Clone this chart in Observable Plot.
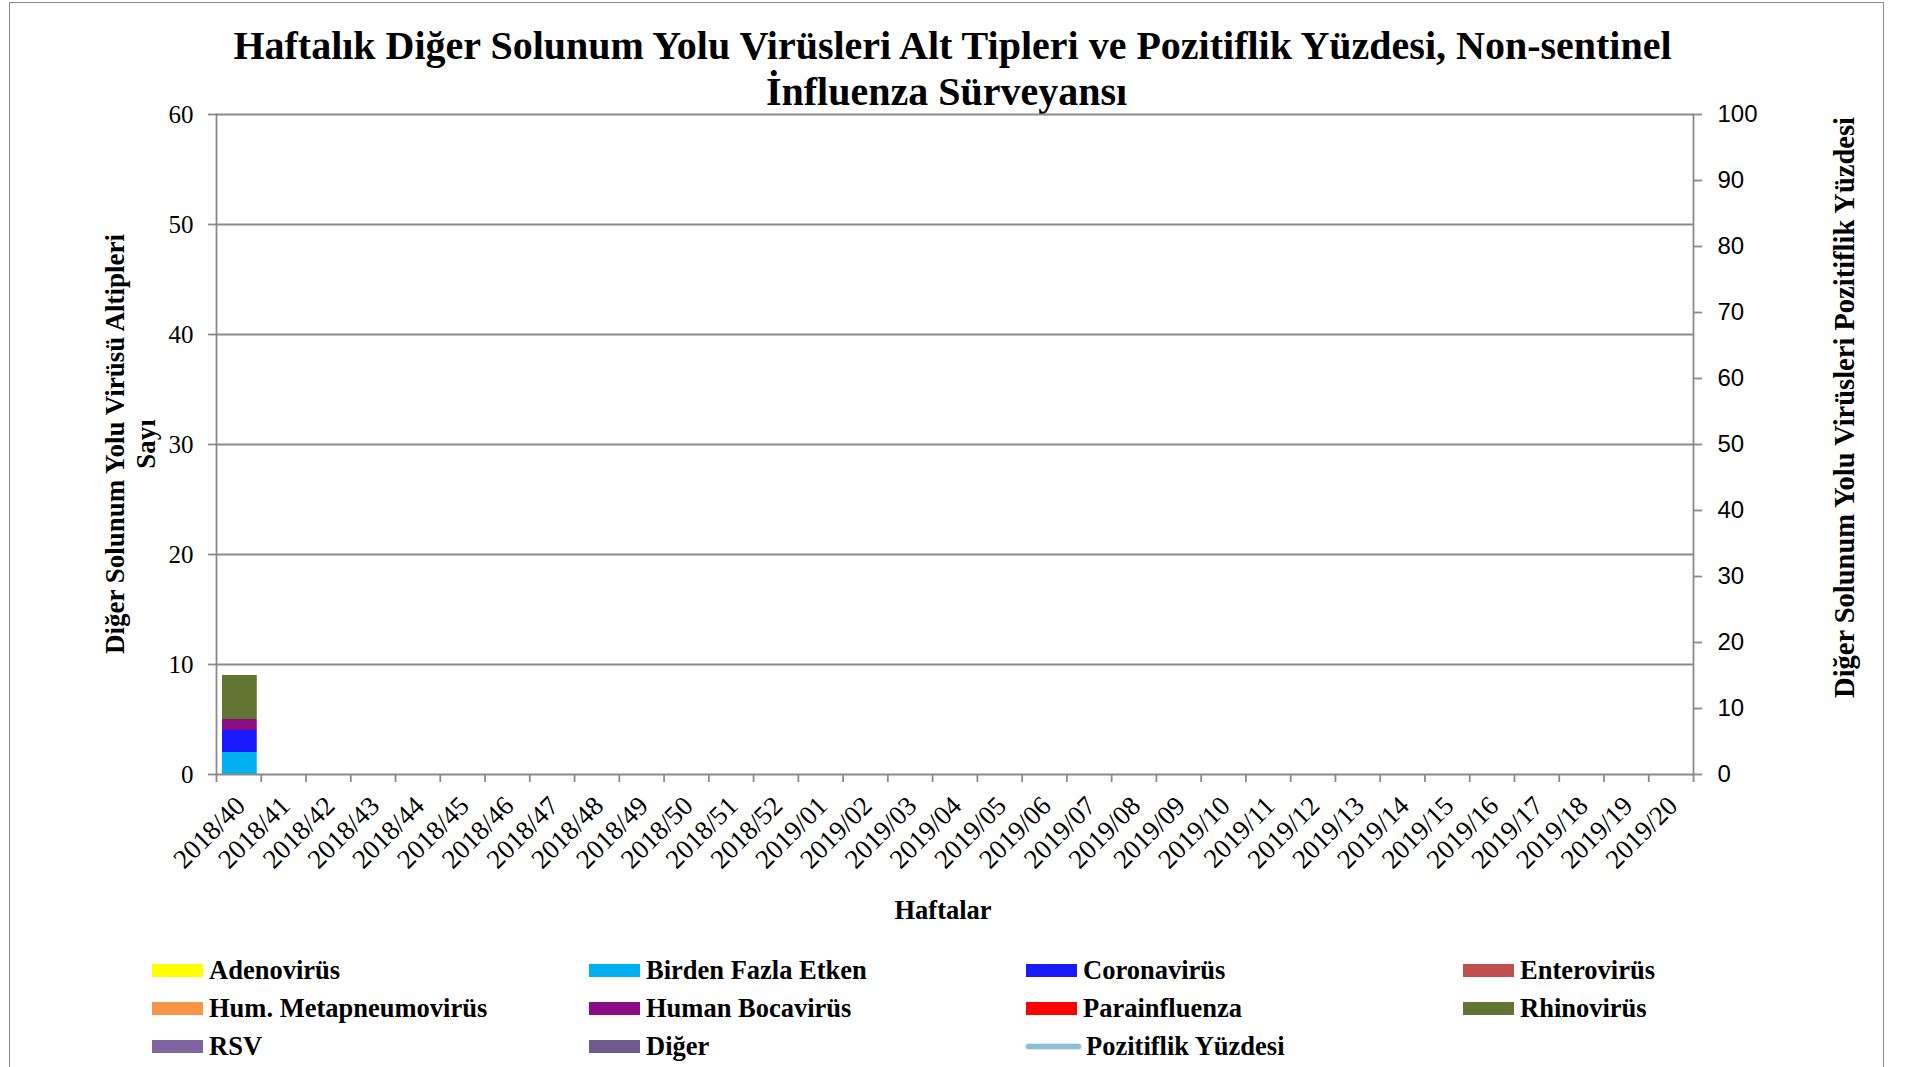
<!DOCTYPE html>
<html>
<head>
<meta charset="utf-8">
<script src="https://cdn.jsdelivr.net/npm/d3@7"></script>
<script src="https://cdn.jsdelivr.net/npm/@observablehq/plot@0.6"></script>
<style>
  html, body { margin: 0; padding: 0; background: #fff; }
  #page { position: relative; width: 1905px; height: 1067px; overflow: hidden; background: #fff; font-family: "Liberation Serif", "Times New Roman", serif; color: #000; }
  #border { position: absolute; left: 9px; top: 2px; width: 1875px; height: 1100px; border: 1.5px solid #8c8c8c; box-sizing: border-box; }
  .abs { position: absolute; }
  #title { left: 0; width: 1905px; top: 23px; text-align: center; font-weight: bold; font-size: 40px; line-height: 46px; }
  .svgwrap { position: absolute; left: 0; top: 0; }
  .svgwrap svg { background: transparent; }
  .ytitle { font-weight: bold; white-space: nowrap; text-align: center; line-height: 31px; }
  .leg { position: absolute; font-weight: bold; font-size: 26.5px; white-space: nowrap; display: flex; align-items: center; height: 30px; }
  .sw { width: 51px; height: 13px; margin-right: 6px; }
  .ln { width: 55px; height: 5px; border-radius: 3px; margin-right: 5px; box-shadow: 0 0 0 1px #d6eaf2; }
</style>
</head>
<body>
<div id="page">
  <div id="border"></div>
  <div id="title" class="abs">Haftalık Diğer Solunum Yolu Virüsleri Alt Tipleri ve Pozitiflik Yüzdesi, Non-sentinel<br><span style="position:relative;left:-6px;">İnfluenza Sürveyansı</span></div>
  <div id="plotL" class="svgwrap"></div>
  <div id="plotR" class="svgwrap"></div>
  <div id="ltitle" class="abs ytitle" style="font-size:27px;">Diğer Solunum Yolu Virüsü Altipleri<br>Sayı</div>
  <div id="rtitle" class="abs ytitle" style="font-size:28.5px;">Diğer Solunum Yolu Virüsleri Pozitiflik Yüzdesi</div>
  <div id="xtitle" class="abs" style="font-weight:bold;font-size:26.5px;">Haftalar</div>
  <div id="legend"></div>
</div>
<script>
// ---- Data ----
const weeks = ["2018/40","2018/41","2018/42","2018/43","2018/44","2018/45","2018/46","2018/47","2018/48","2018/49","2018/50","2018/51","2018/52",
  "2019/01","2019/02","2019/03","2019/04","2019/05","2019/06","2019/07","2019/08","2019/09","2019/10","2019/11","2019/12","2019/13","2019/14","2019/15","2019/16","2019/17","2019/18","2019/19","2019/20"];

const adenovirus       = [0,0,0,0,0,0,0,0,0,0, 0,0,0,0,0,0,0,0,0,0, 0,0,0,0,0,0,0,0,0,0, 0,0,0];
const birdenFazlaEtken = [2,0,0,0,0,0,0,0,0,0, 0,0,0,0,0,0,0,0,0,0, 0,0,0,0,0,0,0,0,0,0, 0,0,0];
const coronavirus      = [2,0,0,0,0,0,0,0,0,0, 0,0,0,0,0,0,0,0,0,0, 0,0,0,0,0,0,0,0,0,0, 0,0,0];
const enterovirus      = [0,0,0,0,0,0,0,0,0,0, 0,0,0,0,0,0,0,0,0,0, 0,0,0,0,0,0,0,0,0,0, 0,0,0];
const metapneumovirus  = [0,0,0,0,0,0,0,0,0,0, 0,0,0,0,0,0,0,0,0,0, 0,0,0,0,0,0,0,0,0,0, 0,0,0];
const bocavirus        = [1,0,0,0,0,0,0,0,0,0, 0,0,0,0,0,0,0,0,0,0, 0,0,0,0,0,0,0,0,0,0, 0,0,0];
const parainfluenza    = [0,0,0,0,0,0,0,0,0,0, 0,0,0,0,0,0,0,0,0,0, 0,0,0,0,0,0,0,0,0,0, 0,0,0];
const rhinovirus       = [4,0,0,0,0,0,0,0,0,0, 0,0,0,0,0,0,0,0,0,0, 0,0,0,0,0,0,0,0,0,0, 0,0,0];
const rsv              = [0,0,0,0,0,0,0,0,0,0, 0,0,0,0,0,0,0,0,0,0, 0,0,0,0,0,0,0,0,0,0, 0,0,0];
const diger            = [0,0,0,0,0,0,0,0,0,0, 0,0,0,0,0,0,0,0,0,0, 0,0,0,0,0,0,0,0,0,0, 0,0,0];
// positivity % (no visible line in the reference)
const pozitiflik = [null,null,null,null,null,null,null,null,null,null, null,null,null,null,null,null,null,null,null,null, null,null,null,null,null,null,null,null,null,null, null,null,null];

const seriesNames  = ["Adenovirüs","Birden Fazla Etken","Coronavirüs","Enterovirüs","Hum. Metapneumovirüs","Human Bocavirüs","Parainfluenza","Rhinovirüs","RSV","Diğer"];
const seriesValues = [adenovirus, birdenFazlaEtken, coronavirus, enterovirus, metapneumovirus, bocavirus, parainfluenza, rhinovirus, rsv, diger];
const seriesColors = ["#FFFF00","#00B0F0","#1A1AFF","#C0504D","#F79646","#8A0D83","#FF0000","#617431","#8064A2","#6F5A8F"];
const lineName = "Pozitiflik Yüzdesi";
const lineColor = "#8DC0D5";

const leftTicks  = [0,10,20,30,40,50,60];
const rightTicks = [0,10,20,30,40,50,60,70,80,90,100];

// ---- Layout ----
const W = 1905, H = 940;
const mT = 114, mB = 166, mL = 216, mR = 212;
const bw = (W - mL - mR) / weeks.length;
const gray = "#8a8a8a";

const table = seriesNames.flatMap((name, s) => weeks.map((w, i) => ({week: w, virus: name, count: seriesValues[s][i]})));
const lineData = weeks.map((w, i) => ({week: w, pct: pozitiflik[i]}));

const left = Plot.plot({
  width: W, height: H, marginTop: mT, marginBottom: mB, marginLeft: mL, marginRight: mR,
  style: {fontFamily: "Liberation Serif", fontSize: "25px", color: "#000", background: "transparent"},
  x: {domain: weeks, padding: 0, round: false, axis: null},
  y: {domain: [0, 60], axis: null},
  color: {domain: seriesNames, range: seriesColors},
  marks: [
    Plot.gridY(leftTicks.filter(d => d > 0), {stroke: gray, strokeOpacity: 1, strokeWidth: 1.8}),
    Plot.barY(table, {x: "week", y: "count", fill: "virus", order: seriesNames, insetLeft: 6, insetRight: 4}),
    Plot.frame({anchor: "left", stroke: gray, strokeWidth: 1.8}),
    Plot.ruleY([0], {stroke: gray, strokeWidth: 1.8}),
    Plot.axisY({ticks: leftTicks, anchor: "left", tickSize: 8, tickPadding: 15, stroke: gray, strokeWidth: 1.8, fontSize: 25, label: null, fill: "#000"}),
    Plot.axisX({ticks: weeks, anchor: "bottom", tickSize: 8, tickFormat: () => "", dx: -bw / 2, stroke: gray, strokeWidth: 1.8, label: null}),
    Plot.axisX({ticks: [weeks[weeks.length - 1]], anchor: "bottom", tickSize: 8, tickFormat: () => "", dx: bw / 2, stroke: gray, strokeWidth: 1.8, label: null}),
    Plot.text(weeks, {x: d => d, frameAnchor: "bottom", dx: 8, dy: 33, rotate: -45, textAnchor: "end", lineAnchor: "bottom", fontSize: 27, fill: "#000"})
  ]
});
document.getElementById("plotL").appendChild(left);

const right = Plot.plot({
  width: W, height: H, marginTop: mT, marginBottom: mB, marginLeft: mL, marginRight: mR,
  style: {fontFamily: "Liberation Sans", fontSize: "24px", color: "#000", background: "transparent"},
  x: {domain: weeks, padding: 0, round: false, axis: null},
  y: {domain: [0, 100], axis: null},
  marks: [
    Plot.line(lineData, {x: "week", y: "pct", stroke: lineColor, strokeWidth: 5}),
    Plot.frame({anchor: "right", stroke: gray, strokeWidth: 1.8}),
    Plot.axisY({ticks: rightTicks, anchor: "right", tickSize: 8, tickPadding: 16, stroke: gray, strokeWidth: 1.8, fontSize: 24, fontFamily: "Liberation Sans", label: null, fill: "#000"})
  ]
});
document.getElementById("plotR").appendChild(right);

// ---- Axis titles ----
function place(el, cx, cy, rot) {
  const w = el.offsetWidth, h = el.offsetHeight;
  el.style.left = (cx - w / 2) + "px";
  el.style.top = (cy - h / 2) + "px";
  if (rot) el.style.transform = `rotate(${rot}deg)`;
}
place(document.getElementById("ltitle"), 131, 444, -90);
place(document.getElementById("rtitle"), 1844, 407, -90);
place(document.getElementById("xtitle"), 943, 910, 0);

// ---- Legend ----
const legend = document.getElementById("legend");
const colX = [152, 589, 1026, 1463];
const rowY = [970, 1008, 1046];
const items = seriesNames.map((n, i) => ({name: n, color: seriesColors[i], type: "rect"}));
items.push({name: lineName, color: lineColor, type: "line"});
items.forEach((it, i) => {
  const c = i % 4, r = Math.floor(i / 4);
  const d = document.createElement("div");
  d.className = "leg";
  d.style.left = colX[c] + "px";
  d.style.top = (rowY[r] - 15) + "px";
  const s = document.createElement("div");
  s.className = it.type === "rect" ? "sw" : "ln";
  s.style.background = it.color;
  d.appendChild(s);
  const t = document.createElement("span");
  t.textContent = it.name;
  d.appendChild(t);
  legend.appendChild(d);
});
</script>
</body>
</html>
